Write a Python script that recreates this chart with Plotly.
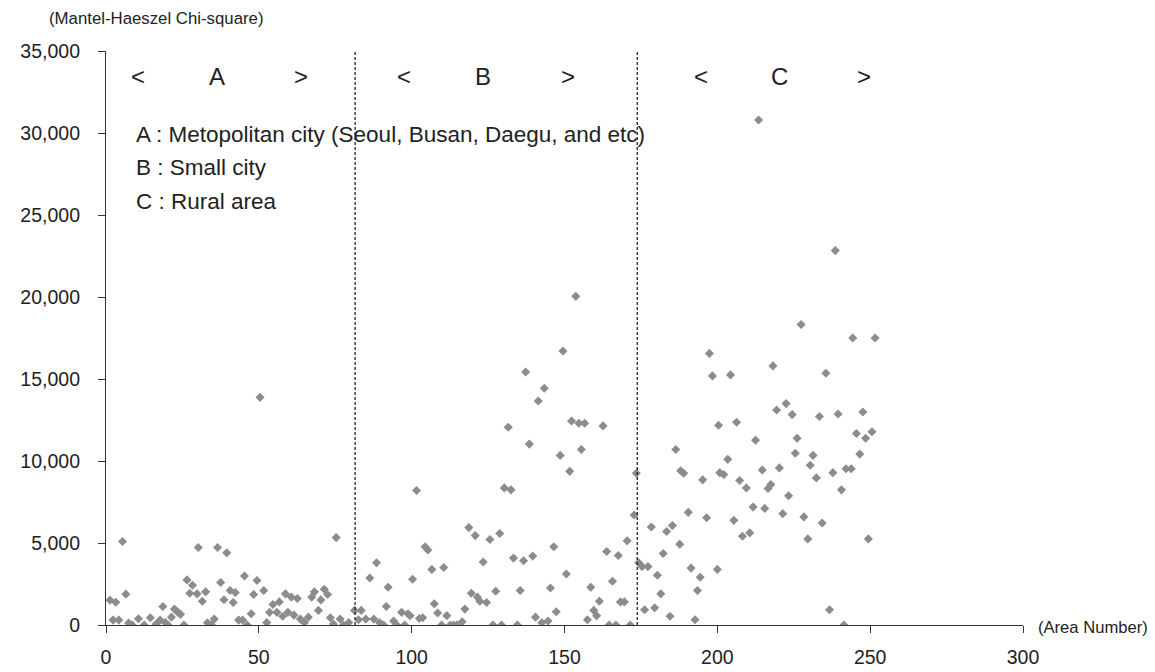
import plotly.graph_objects as go

# Region A (Metropolitan city)
a_x = [1.3,2.3,3.2,4.2,5.4,6.5,7.4,8.6,10.6,12.5,14.5,16.4,17.7,18.6,19.4,20.3,21.4,22.4,23.5,24.4,25.5,26.5,27.4,28.3,29.8,30.2,31.5,32.6,33.2,34.5,35.4,36.5,37.5,38.6,39.5,40.6,41.6,42.3,43.4,44.7,45.3,46.2,47.5,48.3,49.4,50.4,51.6,52.6,53.5,54.6,55.9,56.7,57.8,58.7,59.5,60.6,61.5,62.6,63.6,64.9,66.2,67.3,68.2,69.5,70.3,71.4,72.5,73.4,74.4,75.3,76.6,77.7,79.4,81.3]
a_y = [1515,300,1390,300,5090,1880,120,0,380,0,440,60,300,1130,150,0,480,970,770,650,0,2750,1940,2420,1900,4730,1450,2020,130,0,360,4730,2590,1540,4400,2100,1370,1980,300,300,2990,0,690,1860,2710,13880,2100,150,770,1250,770,1410,530,1900,770,1700,600,1620,360,150,480,1700,2020,890,1530,2180,1860,440,60,5330,360,0,150,890]

# Region B (Small city)
b_x = [82.6,83.5,85.0,86.3,87.6,88.5,89.5,90.8,91.7,92.3,94.1,95.1,96.7,97.7,98.8,99.5,100.3,101.6,102.5,103.6,104.4,105.3,106.6,107.4,108.5,109.8,110.5,111.5,112.6,113.7,114.8,116.5,117.4,118.7,119.5,120.8,121.5,122.3,123.4,124.5,125.6,126.6,127.5,128.8,129.4,130.3,131.6,132.5,133.3,134.6,135.5,136.6,137.3,138.5,139.6,140.5,141.4,142.6,143.4,144.6,145.4,146.5,147.3,148.6,149.5,150.6,151.7,152.3,153.7,154.7,155.5,156.6,157.5,158.6,159.6,160.5,161.4,162.6,163.8,164.6,165.7,166.8,167.6,168.3,169.6,170.5,171.5,172.8,173.5]
b_y = [320,890,360,2870,360,3800,150,0,1130,2300,240,0,770,0,690,560,2790,8200,400,440,4770,4570,3390,1290,730,0,3510,570,0,0,0,200,970,5940,1940,5450,1700,1450,3840,1370,5210,0,2060,5580,0,8360,12060,8240,4080,0,2100,3920,15430,11030,4200,480,13660,140,14440,240,2260,4770,810,10340,16710,3110,9370,12440,20040,12300,10700,12300,320,2300,890,570,1450,12140,4480,0,2670,0,4240,1410,1410,5130,0,6710,9250]

# Region C (Rural area)
c_x = [174.3,175.4,176.2,177.3,178.4,179.5,180.4,181.5,182.3,183.4,184.5,185.3,186.4,187.7,188.0,189.0,190.5,191.4,192.7,193.5,194.4,195.2,196.5,197.4,198.4,200.0,200.4,200.8,202.1,203.4,204.3,205.4,206.3,207.3,208.2,209.5,210.6,211.7,212.5,213.5,214.7,215.5,216.6,217.5,218.2,219.4,220.3,221.4,222.5,223.3,224.5,225.5,226.1,227.4,228.3,229.6,230.4,231.3,232.4,233.4,234.3,235.5,236.7,237.8,238.6,239.5,240.6,241.4,242.1,243.8,244.3,245.5,246.6,247.6,248.5,249.4,250.6,251.6]
c_y = [3800,3560,930,3560,5980,1050,3030,1900,4360,5700,530,6060,10700,4930,9410,9250,6870,3470,320,2100,2910,8850,6540,16560,15190,3390,12180,9290,9170,10100,15250,6380,12360,8810,5410,8360,5620,7190,11270,30790,9450,7110,8320,8560,15800,13110,9580,6790,13500,7880,12830,10470,11390,18320,6590,5250,9740,10340,8970,12710,6220,15350,930,9290,22830,12870,8240,0,9530,9530,17500,11680,10420,12990,11390,5250,11780,17500]

region_bounds = [81.5, 173.8]
x_ticks = [0, 50, 100, 150, 200, 250, 300]
y_ticks = [0, 5000, 10000, 15000, 20000, 25000, 30000, 35000]
y_tick_text = ["0", "5,000", "10,000", "15,000", "20,000", "25,000", "30,000", "35,000"]

W, H = 1155, 672
OFF = 8  # page offset of the figure (body margin)
L, T = 89, 43
PW, PH = 926, 577
R = W - L - PW
B = H - T - PH

FONT = "Liberation Sans, Arial, sans-serif"
MARK = dict(symbol="diamond", size=7, color="#8c8c8c", line=dict(width=0))

fig = go.Figure()
for xs, ys in [(a_x, a_y), (b_x, b_y), (c_x, c_y)]:
    fig.add_trace(go.Scatter(x=xs, y=ys, mode="markers", marker=MARK,
                             showlegend=False, hoverinfo="x+y"))

for xb in region_bounds:
    fig.add_shape(type="line", xref="x", yref="y", x0=xb, x1=xb, y0=0, y1=35000,
                  line=dict(color="#222", width=1.3, dash="3px,2px"))

def px2xy(px, py):
    fx, fy = px - OFF, py - OFF
    return ((fx - L) / PW, (T + PH - fy) / PH)

# Region headers
hdr = [("<", 10.4), ("A", 36.2), (">", 63.8),
       ("<", 97.4), ("B", 123.3), (">", 151.1),
       ("<", 194.5), ("C", 220.4), (">", 247.9)]
for txt, xv in hdr:
    fig.add_annotation(x=xv, y=33450, xref="x", yref="y", text=txt, showarrow=False,
                       font=dict(family=FONT, size=24, color="#222"))

legend_lines = ["A : Metopolitan city (Seoul, Busan, Daegu, and etc)",
                "B : Small city", "C : Rural area"]
for i, t in enumerate(legend_lines):
    xx, yy = px2xy(125, 135 + 33.5 * i)
    fig.add_annotation(x=xx, y=yy, xref="paper", yref="paper", text=t, showarrow=False,
                       xanchor="left", yanchor="middle",
                       font=dict(family=FONT, size=22.5, color="#222"))

xx, yy = px2xy(37, 18)
fig.add_annotation(x=xx, y=yy, xref="paper", yref="paper", text="(Mantel-Haeszel Chi-square)",
                   showarrow=False, xanchor="left", yanchor="middle",
                   font=dict(family=FONT, size=16.8, color="#222"))
xx, yy = px2xy(1036, 631)
fig.add_annotation(x=xx, y=yy, xref="paper", yref="paper", text="(Area Number)",
                   showarrow=False, xanchor="left", yanchor="middle",
                   font=dict(family=FONT, size=16.6, color="#222"))

fig.update_layout(
    width=W, height=H, margin=dict(l=L, r=R, t=T, b=B),
    plot_bgcolor="white", paper_bgcolor="white",
    font=dict(family=FONT, size=19.5, color="#222"),
    xaxis=dict(range=[0, 300], tickvals=x_ticks, showgrid=False, zeroline=False,
               showline=True, linecolor="#333", linewidth=1.2, ticks="outside",
               ticklen=7, tickcolor="#333", tickwidth=1.2, ticklabelstandoff=7,
               tickfont=dict(size=19.5, color="#222")),
    yaxis=dict(range=[0, 35000], tickvals=y_ticks, ticktext=y_tick_text,
               showgrid=False, zeroline=False, showline=True, linecolor="#333",
               linewidth=1.2, ticks="outside", ticklen=7, tickcolor="#333",
               tickwidth=1.2, ticklabelstandoff=14,
               tickfont=dict(size=19.5, color="#222")),
)

fig.write_html("out.html")
